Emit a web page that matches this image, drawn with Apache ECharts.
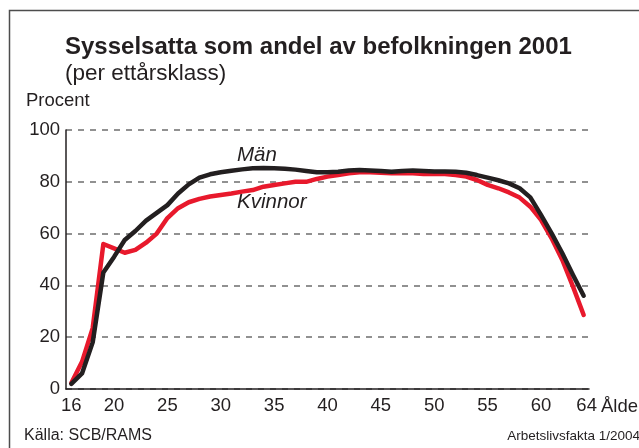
<!DOCTYPE html>
<html>
<head>
<meta charset="utf-8">
<script src="https://cdn.jsdelivr.net/npm/echarts@6/dist/echarts.min.js"></script>
<style>
  html, body { margin: 0; padding: 0; background: #fff; }
  #chart { width: 639px; height: 448px; }
</style>
</head>
<body>
<div id="chart"></div>
<script>
// ålder 16..64
const ages = [];
for (let a = 16; a <= 64; a++) ages.push(String(a));
const shownAges = ['16', '20', '25', '30', '35', '40', '45', '50', '55', '60', '64'];

const man = [
  2, 6, 18, 45, 51, 57.5, 61, 65, 68, 71,
  75.5, 79, 81.6, 82.9, 83.7, 84.3, 84.8, 85.2, 85.3, 85.2,
  85, 84.7, 84.2, 83.7, 83.7, 83.9, 84.4, 84.6, 84.4, 84.2,
  83.9, 84.2, 84.4, 84.2, 84, 84, 83.9, 83.5, 82.6, 81.6,
  80.6, 79.4, 77.5, 74, 67.2, 60.1, 52.4, 44, 36
];
const kvinnor = [
  2.3, 10.5, 23.5, 56, 54.3, 52.6, 53.7, 56.5, 60, 66,
  69.8, 72.1, 73.4, 74.3, 74.9, 75.5, 76.2, 76.8, 78.1, 78.8,
  79.4, 80, 80, 81.1, 82, 82.6, 83.3, 83.7, 83.7, 83.5,
  83.3, 83.3, 83.3, 83, 83, 83, 82.6, 82, 80.7, 78.8,
  77.5, 75.9, 73.9, 70.4, 65.3, 58.2, 49.8, 39.5, 28.6
];
const yTicks = [0, 20, 40, 60, 80, 100];

const font = '"Liberation Sans", Arial, Helvetica, sans-serif';
const ink = '#231f20';

const chart = echarts.init(document.getElementById('chart'));
chart.setOption({
  animation: false,
  textStyle: { fontFamily: font, color: ink },
  grid: { left: 66, right: 50, top: 130, bottom: 59 },
  xAxis: {
    type: 'category',
    data: ages,
    boundaryGap: true,
    axisLine: { lineStyle: { color: ink, width: 1.5 } },
    axisTick: { inside: true, length: 5, interval: 0, lineStyle: { color: ink, width: 1 } },
    axisLabel: {
      interval: (i, v) => shownAges.includes(v),
      // sista etiketten sitter lite till höger i originalet
      formatter: v => v === '64' ? '{r|64}' : v,
      rich: { r: { fontSize: 18.5, color: ink, fontFamily: font, padding: [0, 0, 0, 6] } },
      fontSize: 18.5, color: ink, fontFamily: font, margin: 7
    },
    splitLine: { show: false }
  },
  yAxis: {
    type: 'value',
    min: yTicks[0], max: yTicks[yTicks.length - 1], interval: 20,
    axisLine: { show: true, lineStyle: { color: ink, width: 1.5 } },
    axisTick: { show: false },
    axisLabel: { fontSize: 18.5, color: ink, fontFamily: font, margin: 6 },
    splitLine: { lineStyle: { color: '#6d6d6d', width: 1.5, type: [6, 6] } }
  },
  series: [
    {
      name: 'Kvinnor', type: 'line', data: kvinnor, showSymbol: false, symbol: 'none',
      lineStyle: { color: '#e8192c', width: 4.5, join: 'round', cap: 'round' }
    },
    {
      name: 'Män', type: 'line', data: man, showSymbol: false, symbol: 'none',
      lineStyle: { color: ink, width: 4.5, join: 'round', cap: 'round' }
    }
  ],
  graphic: [
    { type: 'polyline', shape: { points: [[9.5, 448], [9.5, 10.5], [639, 10.5]] },
      style: { stroke: '#4d4d4d', lineWidth: 1.5, fill: null } },
    { type: 'text', left: 65, top: 35,
      style: { text: 'Sysselsatta som andel av befolkningen 2001', font: 'bold 24px ' + font, fill: ink } },
    { type: 'text', left: 65, top: 62,
      style: { text: '(per ettårsklass)', font: '22.5px ' + font, fill: ink } },
    { type: 'text', left: 26, top: 91,
      style: { text: 'Procent', font: '18.5px ' + font, fill: ink } },
    { type: 'text', left: 601, top: 397,
      style: { text: 'Ålder', font: '18.5px ' + font, fill: ink } },
    { type: 'text', left: 237, top: 145,
      style: { text: 'Män', font: 'italic 20.5px ' + font, fill: ink } },
    { type: 'text', left: 237, top: 192,
      style: { text: 'Kvinnor', font: 'italic 20.5px ' + font, fill: ink } },
    { type: 'text', left: 24, top: 428,
      style: { text: 'Källa: SCB/RAMS', font: '16px ' + font, fill: ink } },
    { type: 'text', right: -1, top: 429,
      style: { text: 'Arbetslivsfakta 1/2004', font: '13.5px ' + font, fill: ink } }
  ]
});
</script>
</body>
</html>
